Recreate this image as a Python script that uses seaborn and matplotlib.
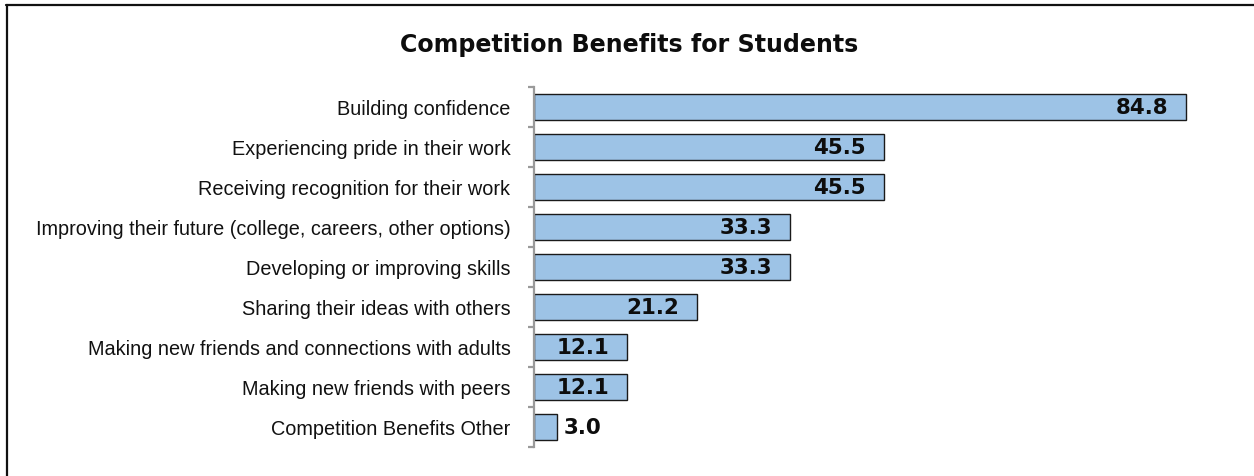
import matplotlib
matplotlib.use("Agg")
import matplotlib.pyplot as plt
from matplotlib.lines import Line2D
import numpy as np
import pandas as pd
import seaborn as sns

categories = [
    "Building confidence",
    "Experiencing pride in their work",
    "Receiving recognition for their work",
    "Improving their future (college, careers, other options)",
    "Developing or improving skills",
    "Sharing their ideas with others",
    "Making new friends and connections with adults",
    "Making new friends with peers",
    "Competition Benefits Other",
]
percentages = [84.8, 45.5, 45.5, 33.3, 33.3, 21.2, 12.1, 12.1, 3.0]
title = "Competition Benefits for Students"

df = pd.DataFrame({"benefit": categories, "pct": percentages})

sns.set_theme(style="white")
plt.rcParams["font.family"] = ["Liberation Sans", "DejaVu Sans"]

W, H = 1254, 477
fig = plt.figure(figsize=(W / 100, H / 100), dpi=100)
fig.patch.set_facecolor("white")

# axes box in pixel terms: left 534, right 1226, top 88, bottom 448
ax = fig.add_axes([534 / W, 1 - 448 / H, (1226 - 534) / W, (448 - 88) / H])

sns.barplot(data=df, x="pct", y="benefit", orient="h", color="#9DC3E6",
            saturation=1, edgecolor="#1a1a1a", linewidth=1.0, width=0.65, ax=ax)

ax.set_xlim(0, 90)
ax.set_ylim(len(categories) - 0.5, -0.5)
ax.set_xlabel("")
ax.set_ylabel("")
ax.set_xticks([])
for side in ["top", "right", "bottom"]:
    ax.spines[side].set_visible(False)
ax.spines["left"].set_color("#9a9a9a")
ax.spines["left"].set_linewidth(1.6)

# category labels without marks, boundary ticks as minor marks
ax.tick_params(axis="y", which="major", length=0, pad=17, labelsize=14.3,
               labelcolor="#111111")
ax.set_yticks(np.arange(-0.5, len(categories), 1.0), minor=True)
ax.tick_params(axis="y", which="minor", length=4.5, width=1.6,
               color="#9a9a9a", direction="out", left=True)

# value labels
for i, v in enumerate(percentages):
    if v >= 8:
        ax.annotate(f"{v:.1f}", xy=(v, i), xytext=(-13, 0),
                    textcoords="offset points", ha="right", va="center",
                    fontsize=15.4, fontweight="bold", family="DejaVu Sans",
                    color="#0d0d0d")
    else:
        ax.annotate(f"{v:.1f}", xy=(v, i), xytext=(5, 0),
                    textcoords="offset points", ha="left", va="center",
                    fontsize=15.4, fontweight="bold", family="DejaVu Sans",
                    color="#0d0d0d")

fig.text(629 / W, 1 - 45 / H, title, ha="center", va="center",
         fontsize=17.1, fontweight="bold", family="DejaVu Sans", color="#0d0d0d")

# chart frame (top and left edges)
fig.add_artist(Line2D([6 / W, 1.01], [1 - 5.5 / H, 1 - 5.5 / H],
                      transform=fig.transFigure, color="#111111", linewidth=1.6))
fig.add_artist(Line2D([6.5 / W, 6.5 / W], [1 - 5.5 / H, -0.01],
                      transform=fig.transFigure, color="#111111", linewidth=1.6))

fig.savefig("out.png", dpi=100)
